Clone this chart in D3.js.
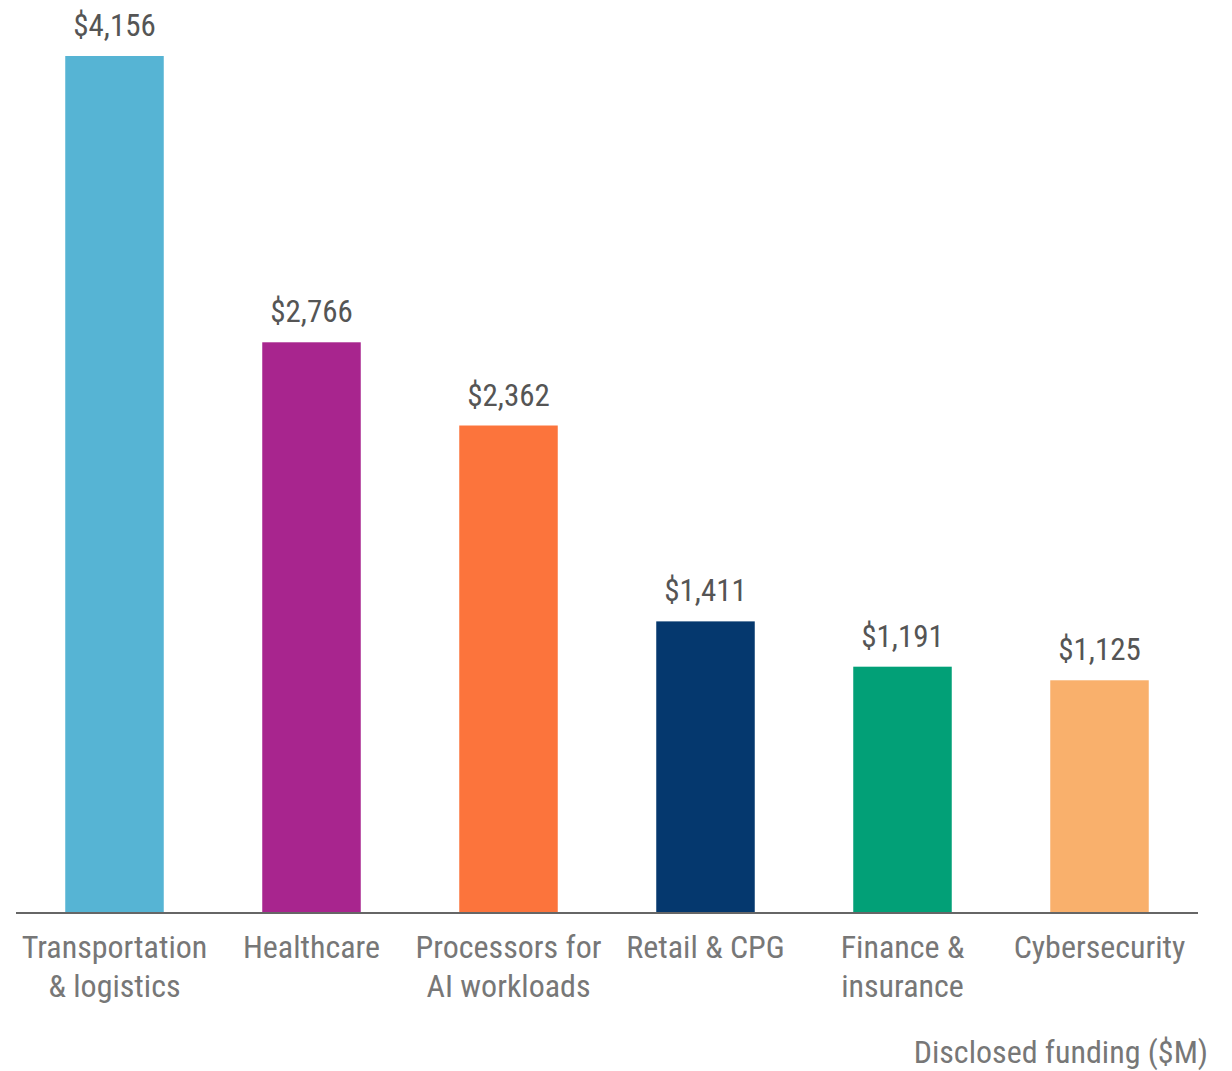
<!DOCTYPE html>
<html>
<head>
<meta charset="utf-8">
<script src="https://cdn.jsdelivr.net/npm/d3@7"></script>
<style>
  html, body { margin: 0; padding: 0; background: #fff; }
  svg text { font-family: "Roboto Condensed", Roboto, "Liberation Sans Narrow", sans-serif; }
</style>
</head>
<body>
<svg id="chart" width="1232" height="1071"></svg>
<script>
const categories = ["Transportation\n& logistics", "Healthcare", "Processors for\nAI workloads", "Retail & CPG", "Finance &\ninsurance", "Cybersecurity"];
const values = [4156, 2766, 2362, 1411, 1191, 1125];
const colors = ["#56B4D4", "#A8258E", "#FC743C", "#05386E", "#02A077", "#F9B06C"];
const axisTitle = "Disclosed funding ($M)";

const svg = d3.select("#chart");
const baseline = 912;
const x = d3.scaleBand().domain(categories).range([16, 1198]).paddingInner(0.5).paddingOuter(0.25);
const y = d3.scaleLinear().domain([0, 4156]).range([baseline, 56]);

svg.selectAll("rect.bar").data(values).join("rect")
  .attr("class", "bar")
  .attr("x", (d, i) => x(categories[i]))
  .attr("width", x.bandwidth())
  .attr("y", d => y(d))
  .attr("height", d => baseline - y(d))
  .attr("fill", (d, i) => colors[i]);

svg.selectAll("text.val").data(values).join("text")
  .attr("class", "val")
  .attr("x", (d, i) => x(categories[i]) + x.bandwidth() / 2)
  .attr("y", d => y(d) - 20)
  .attr("text-anchor", "middle")
  .attr("font-size", 31)
  .attr("fill", "#555")
  .text(d => "$" + d3.format(",")(d));

svg.append("line").attr("x1", 16).attr("x2", 1198).attr("y1", baseline + 1).attr("y2", baseline + 1)
  .attr("stroke", "#666").attr("stroke-width", 2);

const cat = svg.selectAll("text.cat").data(categories).join("text")
  .attr("class", "cat")
  .attr("text-anchor", "middle")
  .attr("font-size", 32)
  .attr("fill", "#777");
cat.each(function(c) {
  const t = d3.select(this);
  const cx = x(c) + x.bandwidth() / 2;
  c.split("\n").forEach((line, j) => {
    t.append("tspan").attr("x", cx).attr("y", 958 + j * 39).text(line);
  });
});

svg.append("text").attr("x", 1208).attr("y", 1063).attr("text-anchor", "end")
  .attr("font-size", 32).attr("fill", "#777").text(axisTitle);
</script>
</body>
</html>
